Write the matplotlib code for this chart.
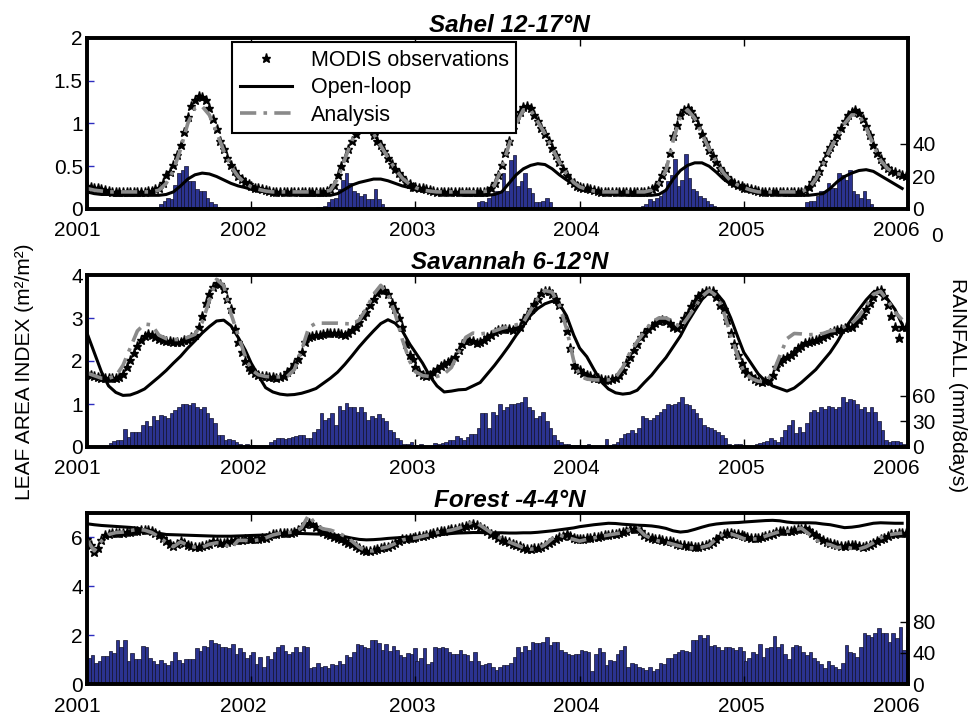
import matplotlib.pyplot as plt
from matplotlib.transforms import ScaledTranslation

plt.rcParams['font.family'] = ['Liberation Sans', 'DejaVu Sans']

years = [2001, 2002, 2003, 2004, 2005]

# ---- Sahel 12-17N ----
sahel_obs = [
    [0.27,0.26,0.25,0.24,0.23,0.22,0.21,0.2,0.2,0.2, 0.2,0.2,0.2,0.2,0.2,0.2,0.2,0.21,0.21,0.23,
     0.25,0.3,0.4,0.43,0.52,0.63,0.75,0.9,1.08,1.2, 1.27,1.32,1.31,1.27,1.18,1.05,0.93,0.8,0.7,0.6,
     0.52,0.45,0.39,0.35,0.31,0.29],
    [0.27,0.25,0.24,0.23,0.22,0.21,0.2,0.2,0.2,0.2, 0.2,0.2,0.2,0.2,0.2,0.2,0.2,0.2,0.2,0.2,
     0.2,0.21,0.23,0.28,0.4,0.5,0.6,0.7,0.8,0.88, 0.95,1.0,1.0,0.95,0.87,0.8,0.75,0.68,0.6,0.53,
     0.47,0.42,0.37,0.32,0.29,0.26],
    [0.26,0.25,0.24,0.23,0.22,0.21,0.2,0.2,0.2,0.2, 0.2,0.2,0.2,0.2,0.2,0.2,0.2,0.2,0.2,0.2,
     0.21,0.24,0.3,0.4,0.52,0.65,0.8,0.93,1.05,1.14, 1.19,1.21,1.18,1.1,1.03,0.95,0.88,0.8,0.71,0.63,
     0.55,0.47,0.4,0.34,0.3,0.27],
    [0.26,0.25,0.24,0.23,0.22,0.21,0.2,0.2,0.2,0.2, 0.2,0.2,0.2,0.2,0.2,0.2,0.2,0.2,0.2,0.21,
     0.23,0.26,0.32,0.4,0.48,0.65,0.85,0.98,1.1,1.16, 1.18,1.15,1.06,0.98,0.88,0.78,0.69,0.62,0.55,0.48,
     0.42,0.37,0.33,0.3,0.28,0.27],
    [0.25,0.24,0.23,0.22,0.21,0.2,0.2,0.2,0.2,0.2, 0.2,0.2,0.2,0.2,0.2,0.2,0.2,0.22,0.26,0.32,
     0.38,0.44,0.55,0.65,0.73,0.8,0.86,0.95,1.03,1.1, 1.14,1.16,1.12,1.05,0.97,0.87,0.75,0.66,0.58,0.52,
     0.48,0.45,0.43,0.41,0.4,0.39],
]
sahel_ana = [
    [0.24,0.22,0.21,0.2,0.2,0.2,0.2,0.2,0.2,0.2,0.22,0.3,0.45,0.7,1.0,1.18,1.2,1.1,0.9,0.68,0.5,0.38,0.3],
    [0.26,0.23,0.21,0.2,0.2,0.2,0.2,0.2,0.2,0.2,0.2,0.22,0.35,0.58,0.8,0.95,0.98,0.88,0.74,0.6,0.47,0.36,0.29],
    [0.25,0.22,0.21,0.2,0.2,0.2,0.2,0.2,0.2,0.2,0.21,0.28,0.48,0.75,1.0,1.16,1.16,1.02,0.88,0.71,0.55,0.41,0.31],
    [0.26,0.23,0.21,0.2,0.2,0.2,0.2,0.2,0.2,0.2,0.22,0.3,0.45,0.8,1.08,1.16,1.06,0.88,0.7,0.55,0.42,0.33,0.28],
    [0.25,0.22,0.2,0.2,0.2,0.2,0.2,0.2,0.2,0.24,0.35,0.52,0.7,0.85,1.0,1.1,1.1,0.95,0.75,0.57,0.47,0.42,0.4],
]
sahel_ol = [
    [0.2,0.18,0.17,0.17,0.16,0.16,0.16,0.16,0.16,0.16,0.16,0.17,0.2,0.27,0.35,0.4,0.42,0.41,0.38,0.34,0.3,0.27,0.25],
    [0.23,0.21,0.2,0.19,0.18,0.17,0.17,0.16,0.16,0.16,0.16,0.16,0.18,0.23,0.28,0.31,0.33,0.35,0.35,0.33,0.3,0.27,0.25],
    [0.23,0.21,0.2,0.19,0.18,0.17,0.17,0.16,0.16,0.16,0.16,0.17,0.2,0.3,0.4,0.47,0.51,0.53,0.52,0.47,0.4,0.34,0.29],
    [0.25,0.22,0.2,0.19,0.18,0.17,0.17,0.16,0.16,0.16,0.16,0.17,0.22,0.35,0.45,0.51,0.54,0.54,0.5,0.43,0.35,0.29,0.25],
    [0.23,0.2,0.19,0.18,0.17,0.17,0.16,0.16,0.16,0.16,0.17,0.18,0.24,0.32,0.38,0.42,0.45,0.46,0.44,0.39,0.34,0.29,0.24],
]
sahel_rain = [
    [0,0,0,0,0,0,0,0,0,0, 0,0,0,0,0,0.3,0.3,0.3,0.3,1, 3,5,7,6,15,22,24,26.5,17,17,
     12,11,11,7,4,3,1,0.5,0,0, 0,0,0,0,0,0],
    [0,0,0,0,0,0,0,0,0,0, 0,0,0,0,0,0,0,0.3,1,1.5, 2,4,6,7,12,18,22,16,11,10,
     8,9,6,6,12,6,3,0.5,0,0, 0,0,0,0,0,0],
    [0,0,0,0,0,0,0,0,0,0, 0,0,0,0,0,0,0,4,5,4, 7,9,11,11,22,11,30,33,14,17,
     22,13,10,4,4,5,7,4,1.5,0, 0,0,0,0,0,0],
    [0,0,0,0,0,0,0,0,0,0, 0,0,0,0,0,0,0.5,1.6,3,6, 5,7,8,11,17,21,31,14,18,34,
     19,12,11,8,7,5,3,2,0.5,0, 0,0,0,0,0,0],
    [0,0,0,0,0,0,0,0,0,0, 0,0,0,0,0.5,0.5,0.5,4,5,5, 8,11,11,16,13,13,22,21,18,24,
     11,9,7,11,6,3,1.5,0,0,0, 0,0,0,0,0,0],
]

# ---- Savannah 6-12N ----
sav_obs = [
    [1.72,1.67,1.64,1.62,1.6,1.6,1.6,1.6,1.61,1.63, 1.7,1.85,2.03,2.18,2.36,2.5,2.58,2.62,2.6,2.56,
     2.52,2.48,2.46,2.46,2.45,2.44,2.45,2.48,2.5,2.55, 2.6,2.8,3.05,3.35,3.55,3.72,3.82,3.8,3.68,3.45,
     3.2,2.75,2.45,2.2,2.0,1.85],
    [1.78,1.72,1.68,1.65,1.64,1.63,1.62,1.6,1.62,1.66, 1.75,1.82,1.92,2.05,2.2,2.45,2.55,2.58,2.6,2.6,
     2.62,2.64,2.65,2.65,2.64,2.62,2.6,2.64,2.72,2.8, 2.9,3.05,3.15,3.3,3.45,3.58,3.64,3.66,3.55,3.35,
     3.2,3.0,2.8,2.4,2.15,2.05],
    [1.85,1.75,1.68,1.66,1.68,1.75,1.82,1.88,1.93,1.97, 2.02,2.1,2.25,2.4,2.47,2.5,2.46,2.43,2.44,2.5,
     2.56,2.6,2.68,2.73,2.74,2.75,2.74,2.73,2.76,2.8, 2.95,3.08,3.2,3.32,3.45,3.58,3.62,3.62,3.55,3.45,
     3.3,3.0,2.7,2.3,1.9,1.82],
    [1.78,1.72,1.68,1.64,1.61,1.6,1.57,1.56,1.56,1.57, 1.6,1.68,1.78,1.95,2.1,2.25,2.4,2.55,2.65,2.75,
     2.82,2.88,2.92,2.95,2.92,2.88,2.8,2.77,2.84,3.0, 3.12,3.28,3.4,3.52,3.58,3.62,3.63,3.62,3.5,3.3,
     3.2,2.95,2.65,2.4,2.15,1.95],
    [1.82,1.72,1.64,1.57,1.54,1.52,1.53,1.56,1.68,1.85, 1.98,2.05,2.1,2.13,2.2,2.3,2.36,2.42,2.45,2.46,
     2.48,2.52,2.56,2.6,2.65,2.7,2.73,2.75,2.77,2.79, 2.8,2.88,2.96,3.08,3.22,3.35,3.5,3.62,3.66,3.52,
     3.3,3.05,2.8,2.53,2.8,2.8],
]
sav_ana = [
    [1.72,1.66,1.6,1.6,1.65,1.9,2.3,2.7,2.86,2.84,2.6,2.52,2.5,2.5,2.55,2.62,2.9,3.4,3.9,3.75,3.1,2.6,2.1],
    [1.8,1.68,1.64,1.63,1.63,1.64,1.8,2.25,2.78,2.88,2.88,2.88,2.88,2.87,2.86,2.95,3.22,3.55,3.76,3.55,3.1,2.5,2.0],
    [1.75,1.66,1.64,1.64,1.7,1.85,2.2,2.55,2.65,2.63,2.65,2.7,2.76,2.8,2.84,2.9,3.18,3.45,3.64,3.6,3.3,2.75,2.0],
    [1.66,1.58,1.56,1.56,1.56,1.62,1.85,2.2,2.45,2.68,2.9,3.0,3.0,2.92,2.77,3.0,3.25,3.5,3.64,3.52,3.15,2.6,2.1],
    [1.75,1.6,1.53,1.52,1.7,2.12,2.52,2.64,2.63,2.61,2.62,2.64,2.7,2.72,2.8,2.88,3.04,3.28,3.55,3.62,3.4,3.14,2.96],
]
sav_ol = [
    [2.65,2.2,1.75,1.42,1.27,1.2,1.21,1.27,1.35,1.49,1.63,1.78,1.95,2.11,2.3,2.47,2.65,2.8,2.93,2.95,2.82,2.55,2.25],
    [1.95,1.66,1.38,1.28,1.23,1.21,1.22,1.25,1.3,1.36,1.48,1.6,1.74,1.92,2.12,2.33,2.52,2.7,2.87,2.96,2.88,2.7,2.4],
    [2.2,1.95,1.65,1.42,1.28,1.3,1.33,1.34,1.42,1.5,1.7,1.9,2.12,2.35,2.6,2.82,3.06,3.22,3.33,3.39,3.33,3.05,2.6],
    [2.3,2.1,1.8,1.52,1.35,1.26,1.23,1.25,1.32,1.5,1.67,1.88,2.08,2.33,2.58,2.9,3.17,3.43,3.6,3.58,3.38,3.0,2.55],
    [2.2,1.95,1.7,1.53,1.42,1.36,1.3,1.37,1.5,1.65,1.8,2.0,2.2,2.45,2.74,2.98,3.2,3.42,3.6,3.64,3.43,3.2,2.85],
]
sav_rain = [
    [0,0,0,0,0,1,5,7,8,8, 21,12,18,18,18,26,30,25,36,32, 38,36,34,40,43,47,51,51,49,52,
     47,45,47,40,34,28,14,14,8,9, 8,6,3,2,4,1],
    [2,0,1,1,0,6,8,10,10,9, 11,12,13,14,14,11,11,18,21,40, 32,34,40,26,48,43,52,47,47,41,
     47,41,32,36,34,39,34,30,20,18, 10,8,4,4,6,2],
    [1,4,0,0,1,5,4,5,6,8, 8,13,10,8,12,15,15,22,40,40, 22,41,38,51,43,47,51,51,52,53,
     59,47,43,34,36,41,30,22,14,8, 6,4,3,2,2,2],
    [1,0,4,1,1,0,1,9,2,4, 6,10,15,16,20,16,22,36,34,32, 34,38,41,45,51,49,51,53,59,51,
     49,45,40,34,26,24,22,20,18,14, 10,4,1,4,4,1],
    [0,0,1,4,5,6,7,10,8,6, 12,20,26,32,16,24,18,28,41,44, 41,47,45,48,47,45,47,59,53,56,
     55,51,45,47,41,47,41,30,20,8, 6,7,7,6,4,3],
]

# ---- Forest -4-4N ----
for_obs = [
    [5.95,5.7,5.4,5.55,5.9,6.08,6.15,6.18,6.2,6.2, 6.2,6.22,6.24,6.26,6.28,6.3,6.3,6.29,6.28,6.2,
     6.08,5.98,5.85,5.72,5.64,5.75,5.85,5.78,5.68,5.64, 5.62,5.62,5.64,5.68,5.75,5.85,5.82,5.78,5.78,5.8,
     5.85,5.9,5.9,5.88,5.92,5.92],
    [5.92,5.93,5.95,5.97,5.99,6.05,6.12,6.15,6.18,6.19, 6.19,6.19,6.22,6.3,6.42,6.53,6.58,6.55,6.42,6.3,
     6.22,6.15,6.08,6.02,5.97,5.93,5.86,5.79,5.72,5.64, 5.56,5.5,5.46,5.44,5.48,5.53,5.57,5.6,5.62,5.7,
     5.78,5.85,5.92,5.95,5.97,5.99],
    [6.02,6.04,6.06,6.1,6.16,6.2,6.23,6.25,6.27,6.3, 6.33,6.36,6.4,6.44,6.48,6.52,6.53,6.5,6.42,6.35,
     6.26,6.16,6.08,5.98,5.9,5.85,5.8,5.74,5.68,5.64, 5.58,5.54,5.53,5.55,5.58,5.62,5.7,5.78,5.86,5.94,
     6.0,6.06,6.12,6.05,5.98,5.95],
    [5.92,5.94,5.97,5.99,6.01,6.03,6.05,6.08,6.1,6.13, 6.16,6.19,6.23,6.28,6.33,6.35,6.36,6.25,6.1,6.02,
     5.98,5.95,5.92,5.9,5.87,5.85,5.8,5.75,5.7,5.67, 5.64,5.63,5.62,5.62,5.64,5.68,5.72,5.82,5.93,6.05,
     6.13,6.18,6.19,6.15,6.12,6.08],
    [6.05,6.01,5.99,5.99,5.99,6.02,6.06,6.11,6.16,6.22, 6.26,6.26,6.26,6.27,6.3,6.33,6.36,6.4,6.3,6.19,
     6.08,5.96,5.88,5.83,5.79,5.74,5.68,5.63,5.64,5.68, 5.71,5.67,5.63,5.62,5.66,5.7,5.76,5.84,5.92,5.98,
     6.06,6.12,6.15,6.17,6.19,6.19],
]
for_ana = [
    [5.9,5.45,5.85,6.12,6.2,6.22,6.28,6.33,6.3,6.2,6.02,5.8,5.62,5.82,5.68,5.6,5.6,5.72,5.78,5.75,5.55,5.88,5.88],
    [5.85,5.9,5.98,6.1,6.17,6.2,6.22,6.4,6.92,6.5,6.35,6.3,6.2,6.05,5.85,5.6,5.45,5.45,5.55,5.62,5.75,5.9,5.95],
    [5.98,6.05,6.12,6.2,6.25,6.3,6.38,6.5,6.65,6.5,6.3,6.1,5.95,5.82,5.7,5.58,5.52,5.55,5.7,5.95,6.1,6.0,5.92],
    [5.85,5.92,5.98,6.05,6.1,6.15,6.2,6.32,6.4,6.1,5.95,5.85,5.8,5.72,5.64,5.58,5.56,5.6,5.68,5.95,6.15,6.15,6.05],
    [5.95,5.92,5.95,6.05,6.15,6.24,6.25,6.3,6.38,6.15,5.9,5.75,5.7,5.58,5.62,5.55,5.52,5.62,5.78,5.98,6.1,6.15,6.18],
]
for_ol = [
    [6.56,6.52,6.49,6.47,6.45,6.43,6.41,6.38,6.3,6.24,6.17,6.12,6.11,6.1,6.09,6.08,6.07,6.06,6.05,6.05,6.05,6.06,6.07],
    [6.08,6.09,6.1,6.12,6.14,6.15,6.16,6.16,6.15,6.14,6.13,6.12,6.08,6.03,5.97,5.92,5.9,5.91,5.93,5.96,5.98,6.0,6.02],
    [6.04,6.05,6.07,6.1,6.13,6.16,6.18,6.19,6.2,6.2,6.19,6.19,6.19,6.18,6.18,6.19,6.19,6.21,6.24,6.27,6.31,6.35,6.39],
    [6.44,6.48,6.52,6.55,6.58,6.57,6.54,6.52,6.5,6.49,6.47,6.43,6.37,6.27,6.22,6.25,6.33,6.42,6.5,6.55,6.58,6.6,6.61],
    [6.63,6.65,6.67,6.69,6.7,6.68,6.63,6.6,6.6,6.6,6.59,6.55,6.52,6.46,6.4,6.42,6.46,6.52,6.58,6.6,6.59,6.58,6.58],
]
for_rain = [
    [34,37,27,29,36,36,42,40,56,47, 57,29,40,32,32,49,47,34,29,26, 31,27,24,29,41,31,27,32,32,32,
     46,42,49,47,56,53,51,48,47,46, 51,39,46,41,33,37],
    [41,26,35,22,36,32,41,48,50,42, 39,41,48,41,49,48,20,22,27,22, 23,21,26,24,29,26,37,35,41,51,
     50,47,46,56,56,53,44,52,43,49, 44,37,35,40,39,46],
    [29,33,46,26,28,48,46,48,46,41, 39,39,44,39,37,30,41,29,24,26, 27,22,18,22,24,24,27,35,47,41,
     49,44,54,53,53,54,61,50,54,54, 44,41,39,37,38,38],
    [44,43,41,17,39,46,41,24,31,29, 38,44,49,22,27,26,22,20,18,22, 17,19,27,26,33,34,39,41,44,43,
     41,56,56,63,59,63,49,50,48,44, 47,48,46,44,47,42],
    [30,33,41,39,52,35,46,47,62,48, 52,39,32,48,50,49,41,37,41,33, 29,26,20,29,24,22,19,27,50,41,
     40,35,48,66,63,61,65,72,65,66, 54,65,59,73,44,61],
]

# 8-day and 16-day time axes
t8 = [y + 8 * i / 365 for y in years for i in range(46)]
t16 = [y + 16 * k / 365 for y in years for k in range(23)]

xtick_years = [2001, 2002, 2003, 2004, 2005, 2006]
xlabel_shift = [-10, -8, -3, -3, -2, -12]   # px, labels sit a bit left of their ticks


def flat(rows):
    return [v for r in rows for v in r]


fig = plt.figure(figsize=(9.74, 7.17), dpi=100)
W, H = 974, 717


def panel(top, bottom, title, obs, ana, ol, rain, lai_ticks, lai_labels, lai_max,
          rain_ticks, rain_max, legend=False):
    rect = [87 / W, 1 - bottom / H, 821 / W, (bottom - top) / H]
    ax = fig.add_axes(rect)
    axr = ax.twinx()
    ax.set_zorder(axr.get_zorder() + 1)
    ax.patch.set_visible(False)

    axr.bar(t8, flat(rain), width=8 / 365, align='edge', color='#2b3390',
            edgecolor='#10102a', linewidth=0.5)
    axr.set_ylim(0, rain_max)
    axr.set_yticks(rain_ticks)
    axr.set_yticklabels([str(v) for v in rain_ticks])
    axr.tick_params(axis='y', direction='in', length=6, width=1, labelsize=15, pad=3)

    h1, = ax.plot(t8, flat(obs), ls='none', marker='*', ms=6.5, color='k',
                  label='MODIS observations')
    h2, = ax.plot(t16, flat(ol), color='k', lw=2.2, label='Open-loop')
    h3, = ax.plot(t16, flat(ana), color='#8a8a8a', lw=2.6, dashes=[4.5, 2, 1, 2],
                  label='Analysis')

    ax.set_xlim(2001, 2006)
    ax.set_ylim(0, lai_max)
    ax.set_yticks(lai_ticks)
    ax.set_yticklabels(lai_labels)
    ax.tick_params(axis='x', direction='in', top=True, length=6, width=1,
                   labelsize=15, pad=9)
    ax.tick_params(axis='y', direction='in', length=5, width=1, color='#2d2dbf',
                   labelsize=15, pad=3)
    ax.set_xticks(xtick_years)
    ax.set_xticklabels([str(y) for y in xtick_years])
    for lab, dx in zip(ax.get_xticklabels(), xlabel_shift):
        lab.set_transform(lab.get_transform() + ScaledTranslation(dx / 100, 0, fig.dpi_scale_trans))
    for a in (ax, axr):
        for s in a.spines.values():
            s.set_linewidth(2.6)
    ax.set_title(title, fontsize=17.5, fontweight='bold', style='italic', pad=4, x=0.515)

    if legend:
        leg = ax.legend(handles=[h1, h2, h3], loc='upper left',
                        bbox_to_anchor=(0.177, 0.975), fontsize=15.5, frameon=True,
                        fancybox=False, framealpha=1, edgecolor='k',
                        handlelength=2.4, borderpad=0.35, labelspacing=0.3,
                        handletextpad=0.9, borderaxespad=0)
        leg.get_frame().set_linewidth(1.5)
    return ax


panel(38, 209, 'Sahel 12-17°N', sahel_obs, sahel_ana, sahel_ol, sahel_rain,
      [0, 0.5, 1, 1.5, 2], ['0', '0.5', '1', '1.5', '2'], 2,
      [0, 20, 40], 105, legend=True)
panel(275, 447, 'Savannah 6-12°N', sav_obs, sav_ana, sav_ol, sav_rain,
      [0, 1, 2, 3, 4], ['0', '1', '2', '3', '4'], 4,
      [0, 30, 60], 202)
panel(513, 684, 'Forest -4-4°N', for_obs, for_ana, for_ol, for_rain,
      [0, 2, 4, 6], ['0', '2', '4', '6'], 7,
      [0, 40, 80], 220)

fig.text(25 / W, 1 - 372 / H, 'LEAF AREA INDEX (m²/m²)', rotation=90,
         ha='center', va='center', fontsize=15)
fig.text(958 / W, 1 - 385 / H, 'RAINFALL (mm/8days)', rotation=270,
         ha='center', va='center', fontsize=15)
fig.text(937 / W, 1 - 236 / H, '0', ha='center', va='center', fontsize=15)

fig.savefig('out.png', dpi=100)
